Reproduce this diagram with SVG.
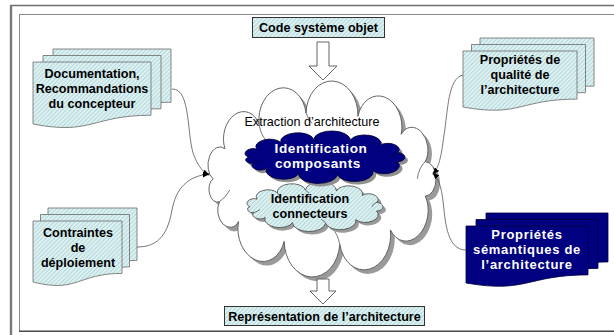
<svg xmlns="http://www.w3.org/2000/svg" xmlns:xlink="http://www.w3.org/1999/xlink" width="614" height="335" viewBox="0 0 614 335">
  <style>
    .lbl { font-family: "Liberation Sans", Arial, sans-serif; font-size: 12.6px; fill: #000; text-anchor: middle; }
    .b { font-weight: bold; }
    .wt { font-family: "Liberation Sans", Arial, sans-serif; font-weight: bold; fill: #fff; text-anchor: middle; }
    .box { fill: url(#hatch); stroke: #333; stroke-width: 1; }
    .sheet { fill: url(#hatch); stroke: #6a6a6a; stroke-width: 0.8; }
    .navy { fill: #000080; stroke: #00003a; stroke-width: 0.8; }
    .conn { fill: none; stroke: #555; stroke-width: 0.8; marker-end: url(#ah); }
    .blk { fill: #fff; stroke: #555; stroke-width: 0.9; }
  </style>
  <defs>
    <pattern id="hatch" width="3" height="3" patternUnits="userSpaceOnUse" patternTransform="rotate(45)">
      <rect width="3" height="3" fill="#def1f2"/>
      <rect width="1" height="3" fill="#b4d8da"/>
    </pattern>
    <pattern id="hatchC" width="3" height="3" patternUnits="userSpaceOnUse" patternTransform="scale(1.305 2.14) rotate(45)">
      <rect width="3" height="3" fill="#def1f2"/>
      <rect width="1" height="3" fill="#b4d8da"/>
    </pattern>
    <!-- cloud outline in a 177.5x107 box (x 12..189.5, y -2.9..104.2) -->
    <path id="cloud" vector-effect="non-scaling-stroke" d="M16,50 A9.35,8.4 -60.6 0 1 25.2,33.7 A14.85,13.4 -26.4 0 1 51.8,20.5 A18.5,16.65 -9.5 0 1 88.3,14.4 A20.2,18.2 2.6 0 1 128.7,16.2 A17.5,15.75 16.1 0 1 162.4,25.9 A11.9,10.7 38.4 0 1 181.1,40.7 A9.3,8.4 90 0 1 181.1,59.3 A16.35,14.7 146 0 1 154,77.6 A20.1,18.1 168.7 0 1 114.6,85.5 A21.7,19.5 182.2 0 1 71.3,83.8 A18.6,16.7 196.7 0 1 35.7,73.1 A9.1,8.2 216.3 0 1 21,62.3 A6.65,6 247.9 0 1 16,50 Z"/>
    <path id="cloudIn" vector-effect="non-scaling-stroke" fill="none" d="M51.8,20.5 Q53,26 57,29 M181.1,40.7 Q176,44 175,50 M114.6,85.5 Q113,80 109,77 M21,62.3 Q26,60 29,56 M88.3,14.4 Q90,18 93,20"/>
    <path id="docTL" d="M0,0 H118 V53.25 C59,53.25 59,73.5 0,62 Z"/>
    <path id="docBL" d="M0,0 H89 V52.4 C44.5,52.4 44.5,72.3 0,61 Z"/>
    <path id="docTR" d="M0,0 H114 V48.1 C57,48.1 57,66.45 0,56 Z"/>
    <path id="docBR" d="M0,0 H122 V48.9 C61,48.9 61,67.6 0,57 Z"/>
    <marker id="ah" viewBox="0 0 10 10" refX="9" refY="5" markerWidth="7" markerHeight="7" orient="auto" markerUnits="userSpaceOnUse">
      <path d="M0,1 L10,5 L0,9 Z" fill="#000"/>
    </marker>
  </defs>

  <rect width="614" height="335" fill="#fff"/>

  <!-- frame -->
  <g id="frame" fill="none">
    <line x1="10" y1="5.5" x2="614" y2="5.5" stroke="#6e6e6e" stroke-width="1.6"/>
    <line x1="11" y1="5" x2="11" y2="335" stroke="#7a7a7a" stroke-width="2.4"/>
    <line x1="19" y1="14.5" x2="614" y2="14.5" stroke="#8a8a8a" stroke-width="1"/>
    <line x1="19.5" y1="14" x2="19.5" y2="331" stroke="#8a8a8a" stroke-width="1"/>
    <line x1="19" y1="331.2" x2="614" y2="331.2" stroke="#4a4a4a" stroke-width="1.6"/>
  </g>

  <!-- central extraction cloud -->
  <g id="extraction">
    <use href="#cloud" transform="translate(196.6 90.4) scale(1.2845 1.849)" fill="#9a9a9a" stroke="none"/>
    <use href="#cloud" transform="translate(192.6 86.4) scale(1.2845 1.849)" fill="#fff" stroke="#555" stroke-width="0.9"/>
    <use href="#cloudIn" transform="translate(192.6 86.4) scale(1.2845 1.849)" stroke="#555" stroke-width="0.8"/>
    <text class="lbl" x="312" y="126">Extraction d’architecture</text>
  </g>

  <g id="connecteurs-id">
    <use href="#cloud" transform="translate(240.8 186.4) scale(0.766 0.467)" fill="#9a9a9a" stroke="none"/>
    <use href="#cloud" transform="translate(237.8 183.4) scale(0.766 0.467)" fill="url(#hatchC)" stroke="#444" stroke-width="0.8"/>
    <use href="#cloudIn" transform="translate(237.8 183.4) scale(0.766 0.467)" stroke="#444" stroke-width="0.7"/>
    <text class="lbl b" x="310" y="203">Identification</text>
    <text class="lbl b" x="310" y="218">connecteurs</text>
  </g>

  <g id="composants-id">
    <use href="#cloud" transform="translate(237.2 135.4) scale(0.901 0.495)" fill="#8f8f8f" stroke="none"/>
    <use href="#cloud" transform="translate(234.2 132.4) scale(0.901 0.495)" fill="#000080" stroke="#000033" stroke-width="0.8"/>
    <use href="#cloudIn" transform="translate(234.2 132.4) scale(0.901 0.495)" stroke="#000033" stroke-width="0.7"/>
    <text class="wt" x="321" y="153" font-size="13.6" letter-spacing="0.6">Identification</text>
    <text class="wt" x="318" y="168" font-size="13.6" letter-spacing="0.6">composants</text>
  </g>

  <!-- input / output boxes -->
  <g id="code-systeme">
    <rect class="box" x="252.5" y="17.5" width="132" height="20"/>
    <text class="lbl b" x="318.5" y="32">Code système objet</text>
  </g>

  <g id="representation">
    <rect class="box" x="224.5" y="306.5" width="200" height="19"/>
    <text class="lbl b" x="324.5" y="320.5">Représentation de l’architecture</text>
  </g>

  <!-- document stacks -->
  <g id="documentation">
    <use href="#docTL" class="sheet" transform="translate(53 49)"/>
    <use href="#docTL" class="sheet" transform="translate(43 55.5)"/>
    <use href="#docTL" class="sheet" transform="translate(33 62)"/>
    <text class="lbl b" x="92" y="78">Documentation,</text>
    <text class="lbl b" x="92" y="93">Recommandations</text>
    <text class="lbl b" x="92" y="108">du concepteur</text>
  </g>

  <g id="contraintes">
    <use href="#docBL" class="sheet" transform="translate(48 208)"/>
    <use href="#docBL" class="sheet" transform="translate(40.5 214.5)"/>
    <use href="#docBL" class="sheet" transform="translate(33 221)"/>
    <text class="lbl b" x="78" y="237">Contraintes</text>
    <text class="lbl b" x="78" y="252">de</text>
    <text class="lbl b" x="78" y="267">déploiement</text>
  </g>

  <g id="qualite">
    <use href="#docTR" class="sheet" transform="translate(480 38)"/>
    <use href="#docTR" class="sheet" transform="translate(471.5 44.5)"/>
    <use href="#docTR" class="sheet" transform="translate(463 51)"/>
    <text class="lbl b" x="520" y="64">Propriétés de</text>
    <text class="lbl b" x="520" y="79">qualité de</text>
    <text class="lbl b" x="520" y="94">l’architecture</text>
  </g>

  <g id="semantique">
    <use href="#docBR" class="navy" transform="translate(486 213)"/>
    <use href="#docBR" class="navy" transform="translate(476 219.5)"/>
    <use href="#docBR" class="navy" transform="translate(466 226)"/>
    <text class="wt" x="527" y="239" font-size="13" letter-spacing="0.7">Propriétés</text>
    <text class="wt" x="527" y="254" font-size="13" letter-spacing="0.7">sémantiques de</text>
    <text class="wt" x="527" y="269" font-size="13" letter-spacing="0.7">l’architecture</text>
  </g>

  <!-- connectors -->
  <g id="connectors">
    <path class="blk" d="M317,42 H329 V66 H337 L323,80 L309,66 H317 Z"/>
    <path class="blk" d="M317,279 H329 V291 H336 L323,304 L310,291 H317 Z"/>
    <path class="conn" d="M172,89 C192,88 186,140 195,158 C199,167 203,172 209,175"/>
    <path class="conn" d="M137,247 C160,247 168,232 172,210 C176,188 188,176 209,174"/>
    <path class="conn" d="M463,75 C448,78 448,110 444,135 C441,158 439,167 433,174"/>
    <path class="conn" d="M466,250 C450,250 446,230 444,210 C442,190 440,180 433,173"/>
  </g>
</svg>
